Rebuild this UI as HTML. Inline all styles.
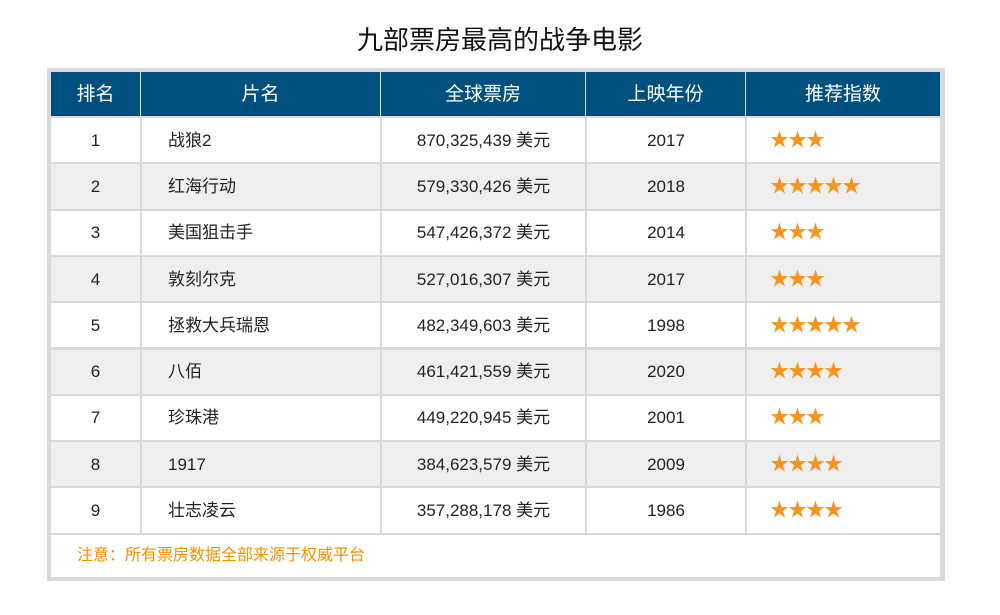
<!DOCTYPE html>
<html><head><meta charset="utf-8"><style>
body{margin:0;width:1000px;height:615px;background:#fff;font-family:"Liberation Sans","Noto Sans CJK SC",sans-serif;position:relative;overflow:hidden}
.t{position:absolute;left:0;width:1000px;top:20px;text-align:center;font-size:26px;color:#111}
#frame{position:absolute;left:47px;top:68px;width:890px;height:505px;border:4px solid #d9d9d9;background:#d9d9d9}
.c{position:absolute;display:flex;align-items:center;font-size:17px;color:#222;box-sizing:border-box;line-height:1}
.h{background:#00507f;color:#fff;justify-content:center;font-size:19px}
.star{color:#f7941d;font-size:19px;letter-spacing:-1px}
</style></head><body>
<div class="t">九部票房最高的战争电影</div>
<div id="frame"></div>
<script>
const ranks=["1","2","3","4","5","6","7","8","9"];
const titles=["战狼2","红海行动","美国狙击手","敦刻尔克","拯救大兵瑞恩","八佰","珍珠港","1917","壮志凌云"];
const boxOffice=["870,325,439 美元","579,330,426 美元","547,426,372 美元","527,016,307 美元","482,349,603 美元","461,421,559 美元","449,220,945 美元","384,623,579 美元","357,288,178 美元"];
const years=["2017","2018","2014","2017","1998","2020","2001","2009","1986"];
const stars=[3,5,3,3,5,4,3,4,4];
const headers=["排名","片名","全球票房","上映年份","推荐指数"];
const colX=[0,89,329,534,694,889];
const f=document.getElementById('frame');
function cell(x,y,w,h,txt,cls,align,pad){
 const d=document.createElement('div');
 d.className='c '+cls;
 d.style.left=x+'px';d.style.top=y+'px';d.style.width=w+'px';d.style.height=h+'px';
 d.style.justifyContent=align;d.style.paddingLeft=(pad||0)+'px';
 d.textContent=txt;f.appendChild(d);return d;}
for(let j=0;j<5;j++){
 const d=cell(colX[j]+(j?1:0),0,colX[j+1]-colX[j]-(j?1:0),44,headers[j],'h','center');
 
 
}
const rh=46.3;
for(let i=0;i<ranks.length;i++){
 const y=46+i*rh, bg=i%2?'#efefef':'#fff';
 const vals=[ranks[i],titles[i],boxOffice[i],years[i],'★'.repeat(stars[i])];
 const al=['center','flex-start','center','center','flex-start'];
 const pd=[0,26,0,0,23];
 for(let j=0;j<5;j++){
  const d=cell(colX[j]+(j?2:0),y,colX[j+1]-colX[j]-(j?2:0),rh-2,vals[j],j==4?'star':'',al[j],pd[j]);
  d.style.background=bg;
  
  
 }
}
const n=cell(0,46+9*rh,889,505-46-9*rh,'注意：所有票房数据全部来源于权威平台','','flex-start',26);
n.style.background='#fff';n.style.color='#f39200';n.style.fontSize='16px';


</script>
</body></html>
